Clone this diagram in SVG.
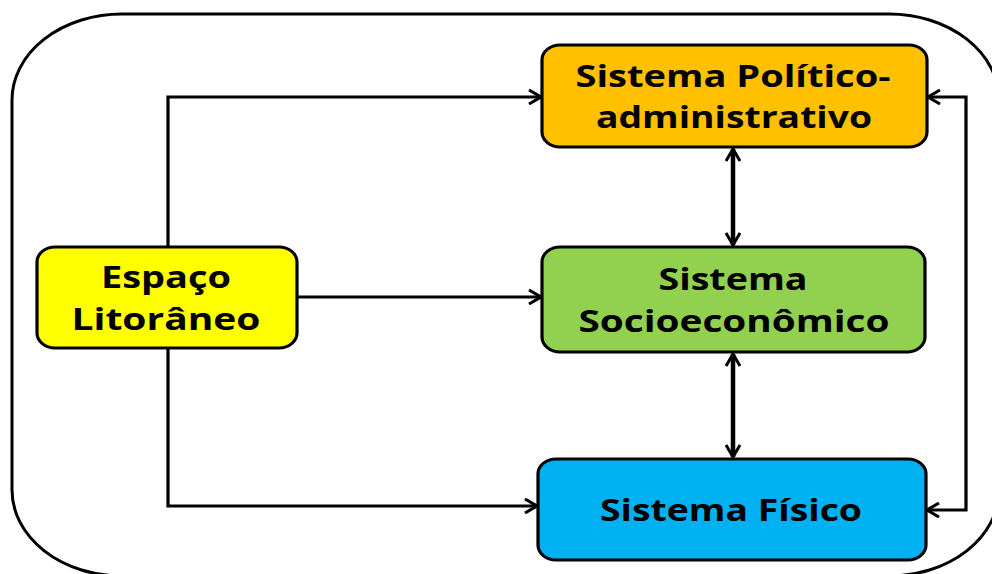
<svg xmlns="http://www.w3.org/2000/svg" width="992" height="574" viewBox="0 0 992 574">
<style>
.box{stroke:#000;stroke-width:3.2}
.t{font-family:"Open Sans","Liberation Sans",sans-serif;font-weight:bold;font-size:30px;fill:#000;text-anchor:middle}
.c{fill:none;stroke:#000;stroke-width:3.2}
.v{fill:none;stroke:#000;stroke-width:4.5}
</style>
<defs>
<marker id="ah" viewBox="0 0 14 16" refX="13" refY="8" markerWidth="14" markerHeight="16" markerUnits="userSpaceOnUse" orient="auto-start-reverse">
<path d="M1,1 L13,8 L1,15" fill="none" stroke="#000" stroke-width="3"/>
</marker>
</defs>
<rect width="992" height="574" fill="#fff"/>
<rect id="frame" x="12" y="14" width="987" height="562" rx="110" ry="86" fill="none" stroke="#000" stroke-width="3"/>
<g id="connectors">
<path class="c" d="M168,247 V97 H541" marker-end="url(#ah)"/>
<path class="c" d="M297,297 H541" marker-end="url(#ah)"/>
<path class="c" d="M168,348 V506 H537" marker-end="url(#ah)"/>
<path class="v" d="M733,149 V245" marker-start="url(#ah)" marker-end="url(#ah)"/>
<path class="v" d="M733,354 V457" marker-start="url(#ah)" marker-end="url(#ah)"/>
<path class="c" d="M927,510 H966 V97 H928" marker-start="url(#ah)" marker-end="url(#ah)"/>
</g>
<g id="espaco">
<rect class="box" x="37" y="247" width="260" height="101" rx="18" ry="15" fill="#FFFF00"/>
<text class="t" x="166" y="288" textLength="130" lengthAdjust="spacingAndGlyphs">Espaço</text>
<text class="t" x="166" y="330" textLength="189" lengthAdjust="spacingAndGlyphs">Litorâneo</text>
</g>
<g id="politico">
<rect class="box" x="542" y="45" width="385" height="102" rx="18" ry="15" fill="#FFC000"/>
<text class="t" x="733" y="87" textLength="315" lengthAdjust="spacingAndGlyphs">Sistema Político-</text>
<text class="t" x="734" y="128" textLength="276" lengthAdjust="spacingAndGlyphs">administrativo</text>
</g>
<g id="socio">
<rect class="box" x="542" y="247" width="383" height="105" rx="18" ry="15" fill="#92D050"/>
<text class="t" x="733" y="290" textLength="149" lengthAdjust="spacingAndGlyphs">Sistema</text>
<text class="t" x="734" y="332" textLength="311" lengthAdjust="spacingAndGlyphs">Socioeconômico</text>
</g>
<g id="fisico">
<rect class="box" x="538" y="459" width="388" height="101" rx="18" ry="15" fill="#00B0F0"/>
<text class="t" x="731" y="521" textLength="262" lengthAdjust="spacingAndGlyphs">Sistema Físico</text>
</g>
</svg>
